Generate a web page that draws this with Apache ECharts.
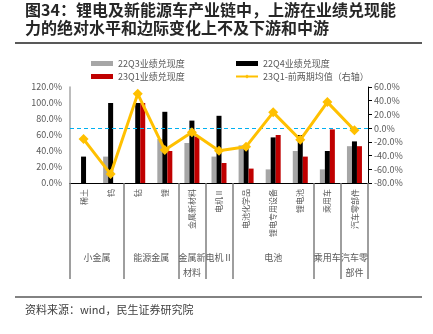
<!DOCTYPE html>
<html><head><meta charset="utf-8">
<script src="https://cdn.jsdelivr.net/npm/echarts@6/dist/echarts.min.js"></script>
<style>html,body{margin:0;padding:0;background:#fff}#c{width:433px;height:334px}</style>
</head><body><div id="c"></div>
<script>
const categories = ['稀土','钨','钴','锂','金属新材料','电机Ⅱ','电池化学品','锂电专用设备','锂电池','乘用车','汽车零部件'];
const q3Values = [0,33,0,55,50,33,47,17,40,17,46];
const q4Values = [33,100,100,89,78,84,46,57,60,40,52];
const q1Values = [0,0,100,40,58,25,18,60,33,67,46];
const diffValues = [-16,-67,50,-32,-6,-33,-27,23,-17,38,-3];
const groupNames = ['小金属','能源金属','金属新\n材料','电机Ⅱ','电池','乘用车','汽车零\n部件'];
const groupSizes = [2,2,1,1,3,1,1];
const seriesNames = ['22Q3业绩兑现度','22Q4业绩兑现度','23Q1业绩兑现度','23Q1-前两期均值（右轴）'];

// half-slot group axis: 23 points, boundaries at even slots, labels at group centres
const slotCount = categories.length * 2 + 1;
const groupSlots = [];
for (let i = 0; i < slotCount; i++) groupSlots.push('s' + i);
const groupLabelAt = {};
const boundaryList = [0];
let s = 0;
groupSizes.forEach((n, i) => {
  groupLabelAt[2 * s + n] = groupNames[i];
  s += n;
  boundaryList.push(2 * s);
});

const FONT = '"Noto Sans CJK SC", "Noto Sans", sans-serif';
const TXT = '#595959';
const chart = echarts.init(document.getElementById('c'));
const pct = v => v.toFixed(1) + '%';
chart.setOption({
  animation: false,
  textStyle: { fontFamily: FONT },
  grid: { left: 70, right: 65, top: 87, bottom: 151, containLabel: false },
  legend: [
    { left: 86, top: 54, orient: 'vertical', itemGap: 4, itemWidth: 22, itemHeight: 5,
      textStyle: { fontSize: 9, color: TXT, fontFamily: FONT },
      data: [{ name: seriesNames[0], icon: 'rect' }, { name: seriesNames[2], icon: 'rect' }] },
    { left: 230, top: 54, orient: 'vertical', itemGap: 4, itemWidth: 22, itemHeight: 5,
      textStyle: { fontSize: 9, color: TXT, fontFamily: FONT },
      data: [{ name: seriesNames[1], icon: 'rect' }, { name: seriesNames[3] }] }
  ],
  xAxis: [
    { type: 'category', data: categories, position: 'bottom',
      axisLine: { onZero: false, lineStyle: { color: '#000', width: 1.2 } },
      axisTick: { show: false },
      axisLabel: { interval: 0, rotate: 90, fontSize: 8, color: TXT, margin: 6, fontFamily: FONT } },
    { type: 'category', data: groupSlots, position: 'bottom', boundaryGap: false,
      axisLine: { show: true, onZero: false, lineStyle: { color: '#000', width: 1.2 } },
      axisTick: { show: true, length: 96, inside: false,
        interval: function (idx) { return boundaryList.indexOf(Number(idx)) >= 0; },
        lineStyle: { color: '#7f7f7f', width: 1.5 } },
      axisLabel: { show: true, interval: 0, fontSize: 9, color: TXT, margin: 67, lineHeight: 15, fontFamily: FONT,
        formatter: (v, i) => groupLabelAt[i] || '' } }
  ],
  yAxis: [
    { type: 'value', min: 0, max: 120, interval: 20, position: 'left',
      axisLine: { show: true, onZero: false, lineStyle: { color: '#a6a6a6', width: 1.5 } },
      axisTick: { show: false }, splitLine: { show: false },
      axisLabel: { formatter: pct, fontSize: 9, color: TXT, margin: 8 } },
    { type: 'value', min: -80, max: 60, interval: 20, position: 'right',
      axisLine: { show: true, onZero: false, lineStyle: { color: '#000', width: 1 } },
      axisTick: { show: true, length: 4, lineStyle: { color: '#000' } },
      splitLine: { show: false },
      axisLabel: { formatter: pct, fontSize: 9, color: TXT, margin: 6 } }
  ],
  series: [
    { name: seriesNames[0], type: 'bar', data: q3Values, barWidth: 5, barGap: '0%',
      itemStyle: { color: '#a6a6a6' } },
    { name: seriesNames[1], type: 'bar', data: q4Values, barWidth: 5, barGap: '0%',
      itemStyle: { color: '#000000' } },
    { name: seriesNames[2], type: 'bar', data: q1Values, barWidth: 5, barGap: '0%',
      itemStyle: { color: '#c00000' } },
    { name: seriesNames[3], type: 'line', yAxisIndex: 1, data: diffValues, z: 5,
      symbol: 'diamond', symbolSize: 10,
      lineStyle: { color: '#ffc000', width: 3 }, itemStyle: { color: '#ffc000' },
      markLine: { silent: true, symbol: 'none', label: { show: false },
        lineStyle: { color: '#00b0f0', type: [4, 3], width: 1 },
        data: [{ yAxis: 0 }] } }
  ],
  graphic: [
    { type: 'text', left: 25, top: 2, style: { text: '图34：锂电及新能源车产业链中，上游在业绩兑现能', font: 'bold 16px ' + FONT, fill: '#262626' } },
    { type: 'text', left: 25, top: 20, style: { text: '力的绝对水平和边际变化上不及下游和中游', font: 'bold 16px ' + FONT, fill: '#262626' } },
    { type: 'line', shape: { x1: 15, y1: 43, x2: 422, y2: 43 }, style: { stroke: '#595959', lineWidth: 2 } },
    { type: 'line', shape: { x1: 15, y1: 297, x2: 422, y2: 297 }, style: { stroke: '#595959', lineWidth: 1.5 } },
    { type: 'text', left: 25, top: 304, style: { text: '资料来源：wind，民生证券研究院', font: '11px ' + FONT, fill: '#404040' } }
  ]
});
</script>
</body></html>
